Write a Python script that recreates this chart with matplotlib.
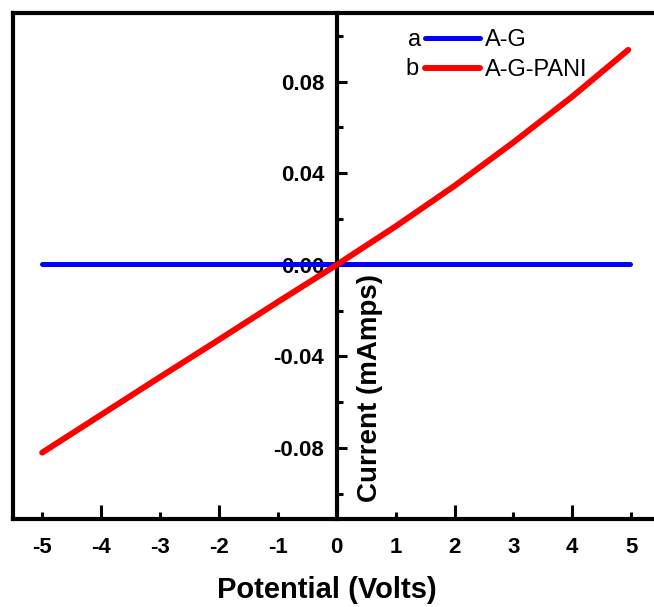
import matplotlib
matplotlib.use("Agg")
import matplotlib.pyplot as plt
from matplotlib.ticker import MultipleLocator, FormatStrFormatter
from matplotlib.lines import Line2D

plt.rcParams['font.family'] = ['Liberation Sans', 'DejaVu Sans']
plt.rcParams['axes.unicode_minus'] = False

# Data
potential_ag = [-5.0, -2.5, 0.0, 2.5, 4.98]
current_ag = [0.0005, 0.0005, 0.0005, 0.0005, 0.0005]

potential_pani = [-5.0, -4.0, -3.0, -2.0, -1.0, 0.0, 1.0, 2.0, 3.0, 4.0, 4.95]
current_pani = [-0.082, -0.0655, -0.049, -0.0327, -0.0162, 0.0, 0.0168, 0.0345, 0.0535, 0.0735, 0.0939]

series_labels = ["A-G", "A-G-PANI"]
series_tags = ["a", "b"]

W, H = 654, 607
fig = plt.figure(figsize=(W / 100, H / 100), dpi=100)
left_px, right_px, top_px, bot_px = 12.75, 660.65, 13, 519
ax = fig.add_axes([left_px / W, 1 - bot_px / H, (right_px - left_px) / W, (bot_px - top_px) / H])

l1, = ax.plot(potential_ag, current_ag, color='#0000ff', lw=3.6, solid_capstyle='round', zorder=3)
l2, = ax.plot(potential_pani, current_pani, color='#ff0000', lw=4.3, solid_capstyle='round', zorder=3)

ax.set_xlim(-5.5, 5.5)
ax.set_ylim(-0.111, 0.110)

# spines
ax.spines['left'].set_position(('data', 0))
ax.spines['right'].set_visible(False)
for s in ['left', 'bottom', 'top']:
    ax.spines[s].set_linewidth(3)
ax.add_line(Line2D([0, 0], [0, 1], transform=ax.transAxes, color='black', lw=3, clip_on=False, zorder=2.5))

# x ticks
ax.xaxis.set_major_locator(MultipleLocator(2))
ax.xaxis.set_minor_locator(MultipleLocator(1))
ax.xaxis.set_major_formatter(FormatStrFormatter('%d'))
ax.xaxis.set_minor_formatter(FormatStrFormatter('%d'))
ax.tick_params(axis='x', which='major', direction='in', length=10, width=2.2, pad=13,
               labelsize=16, top=False)
ax.tick_params(axis='x', which='minor', direction='in', length=5, width=2.2, pad=13,
               labelsize=16, top=False)

# y ticks
ax.yaxis.set_major_locator(MultipleLocator(0.04))
ax.yaxis.set_minor_locator(MultipleLocator(0.02))
ax.yaxis.set_major_formatter(FormatStrFormatter('%.2f'))
ax.tick_params(axis='y', which='major', direction='in', length=7, width=2.2, pad=9,
               labelsize=16, right=False)
ax.tick_params(axis='y', which='minor', direction='in', length=4, width=2.2, right=False)

for lab in ax.get_xticklabels(which='both') + ax.get_yticklabels():
    lab.set_fontweight('bold')

# axis labels
fig.text(327 / W, 1 - 590 / H, 'Potential (Volts)', ha='center', va='center',
         fontsize=21, fontweight='bold')
ax.text(0.57, -0.0539, 'Current (mAmps)', rotation=90, ha='center', va='center',
        fontsize=20, fontweight='bold')

# legend
leg = ax.legend([l1, l2], series_labels, loc='upper left',
                bbox_to_anchor=((425 - left_px) / (right_px - left_px), 1 - (29.5 - top_px) / (bot_px - top_px)),
                frameon=False, fontsize=17, handlelength=2.33, handletextpad=0.2,
                labelspacing=0.31, borderaxespad=0, borderpad=0)
for t, x, y in zip(series_tags, [414.5, 412], [46, 75]):
    fig.text(x / W, 1 - y / H, t, ha='center', va='baseline', fontsize=17)

fig.savefig('out.png', dpi=100)
